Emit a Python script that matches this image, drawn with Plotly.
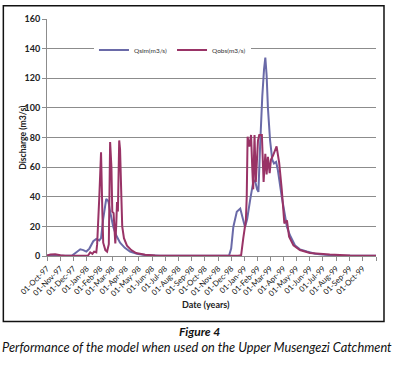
import pandas as pd
import plotly.graph_objects as go

start = pd.Timestamp("1997-10-01")

# Day index (days since 01-Oct-97) and discharge (m3/s)
sim_day = [0, 31, 58, 68, 77, 84, 91, 98, 107, 114, 121, 125, 130, 137, 142, 146, 153, 160,
           169, 180, 192, 208, 227, 262, 421, 426, 431, 439, 447, 452, 458, 463, 470, 477,
           481, 486, 489, 493, 498, 502, 505, 508, 511, 516, 521, 525, 530, 534, 543, 555,
           562, 574, 585, 601, 620, 643, 678, 761]
sim_q = [0.3, 0.2, 0.3, 2.5, 4.5, 4, 3, 5, 10, 11.5, 10.5, 12, 25, 38.5, 37, 30, 20, 14,
         9, 5.5, 3, 1.5, 0.6, 0.2, 0.2, 5, 19.6, 29.8, 32, 26.4, 19.6, 25, 38, 50,
         51, 45, 43.3, 75, 108, 126, 134, 122, 100, 78, 65, 62.5, 63.5, 58, 40, 19.6,
         14, 7, 4.5, 3, 1.5, 0.8, 0.3, 0.1]

obs_day = [0, 8, 19, 31, 42, 95, 100, 105, 109, 114, 116, 121, 125, 128, 130, 135, 139, 143,
           146, 149, 151, 154, 158, 160, 162, 164, 167, 169, 172, 174, 178, 185, 195, 206,
           227, 250, 273, 442, 449, 454, 460, 462, 464, 468, 472, 475, 477, 480, 483, 488,
           491, 497, 501, 505, 508, 511, 515, 518, 523, 531, 537, 543, 549, 555, 560, 570,
           585, 608, 654, 701, 761]
obs_q = [0.3, 1, 1.2, 0.5, 0.2, 0.3, 2.5, 1.5, 3, 2.5, 8, 40, 70, 30, 9, 4, 3, 8,
         77, 60, 30, 29, 8.5, 20, 36.5, 30, 78, 72, 40, 20, 12, 7, 4, 2,
         0.8, 0.3, 0.2, 0.2, 0.5, 12, 24, 40, 80.5, 73.8, 81.7, 58, 45, 81.7, 50, 78,
         81.7, 81.7, 50, 69, 55, 67, 56, 65, 68, 74, 63, 45, 22, 24, 13, 7.2,
         4, 2, 1, 0.3, 0.2]

tick_dates = ["1997-10-01", "1997-11-01", "1997-12-01", "1998-01-01", "1998-02-01",
              "1998-03-01", "1998-04-01", "1998-05-01", "1998-06-01", "1998-07-01",
              "1998-08-01", "1998-09-01", "1998-10-01", "1998-11-01", "1998-12-01",
              "1999-01-01", "1999-02-01", "1999-03-01", "1999-04-01", "1999-05-01",
              "1999-06-01", "1999-07-01", "1999-08-01", "1999-09-01", "1999-10-01"]
tick_labels = ["01-Oct-97", "01-Nov-97", "01-Dec-97", "01-Jan-98", "01-Feb-98",
               "01-Mar-98", "01-Apr-98", "01-May-98", "01-Jun-98", "01-Jul-98",
               "01-Aug-98", "01-Sep-98", "01-Oct-98", "01-Nov-98", "01-Dec-98",
               "01-Jan-99", "01-Feb-99", "01-Mar-99", "01-Apr-99", "01-May-99",
               "01-Jun-99", "01-Jul-99", "01-Aug-99", "01-Sep-99", "01-Oct-99"]

sim_x = start + pd.to_timedelta(sim_day, unit="D")
obs_x = start + pd.to_timedelta(obs_day, unit="D")

SIM_C = "#6a6aa8"
OBS_C = "#993366"
GRID = "#8c8c8c"
FONT = "Lato"

fig = go.Figure()
fig.add_trace(go.Scatter(x=sim_x, y=sim_q, mode="lines", name="Qsim(m3/s)",
                         line=dict(color=SIM_C, width=2, simplify=False)))
fig.add_trace(go.Scatter(x=obs_x, y=obs_q, mode="lines", name="Qobs(m3/s)",
                         line=dict(color=OBS_C, width=2, simplify=False)))

fig.update_layout(
    width=393, height=375,
    margin=dict(l=47, r=17, t=19, b=119, pad=0),
    paper_bgcolor="white", plot_bgcolor="white",
    font=dict(family=FONT, color="#222222"),
    showlegend=True,
    legend=dict(orientation="h", x=0.62, xanchor="right", y=0.93, yanchor="top",
                bgcolor="white", font=dict(size=6.5, color="#333333"),
                itemwidth=30, tracegroupgap=0),
    xaxis=dict(
        type="date",
        range=["1997-10-01", "1999-11-01"],
        tickmode="array", tickvals=tick_dates, ticktext=tick_labels,
        tickangle=-45, tickfont=dict(size=7.8, color="#151515", family=FONT),
        ticks="outside", ticklen=4, tickcolor=GRID,
        showline=True, linecolor=GRID, linewidth=1,
        showgrid=False, zeroline=False, automargin=False,
        minor=dict(dtick="M1", tick0="1997-10-01", ticks="outside", ticklen=4, tickcolor=GRID),
    ),
    yaxis=dict(
        range=[0, 160], dtick=20,
        tickfont=dict(size=9, color="#222222", family=FONT, weight="bold"),
        ticks="outside", ticklen=4, tickcolor=GRID,
        showline=True, linecolor=GRID, linewidth=1, automargin=False,
        showgrid=True, gridcolor=GRID, gridwidth=1, zeroline=False,
    ),
)

# Chart border
fig.add_shape(type="rect", xref="paper", yref="paper",
              x0=-0.1327, x1=1.0243, y0=-0.2762, y1=1.0563,
              line=dict(color="#111111", width=1.5), layer="above")

fig.add_annotation(text="<b>Discharge (m3/s)</b>", xref="paper", yref="paper",
                   x=-0.0963, y=0.5, textangle=-90, showarrow=False,
                   font=dict(size=8.6, color="#222222", family=FONT))
fig.add_annotation(text="<b>Date (years)</b>", xref="paper", yref="paper",
                   x=0.484, y=-0.2369, showarrow=False,
                   font=dict(size=9, color="#222222", family=FONT))
fig.add_annotation(text="<b><i>Figure 4</i></b>", xref="paper", yref="paper",
                   x=0.465, y=-0.3596, showarrow=False,
                   font=dict(size=12, color="#111111", family=FONT))
fig.add_annotation(text="<i>Performance of the model when used on the Upper Musengezi Catchment</i>",
                   xref="paper", yref="paper", x=0.455, y=-0.4243, showarrow=False,
                   font=dict(size=12.8, color="#111111", family=FONT))

fig.write_html("out.html", config={"displayModeBar": False},
               post_script="document.body.style.margin='0px';")
